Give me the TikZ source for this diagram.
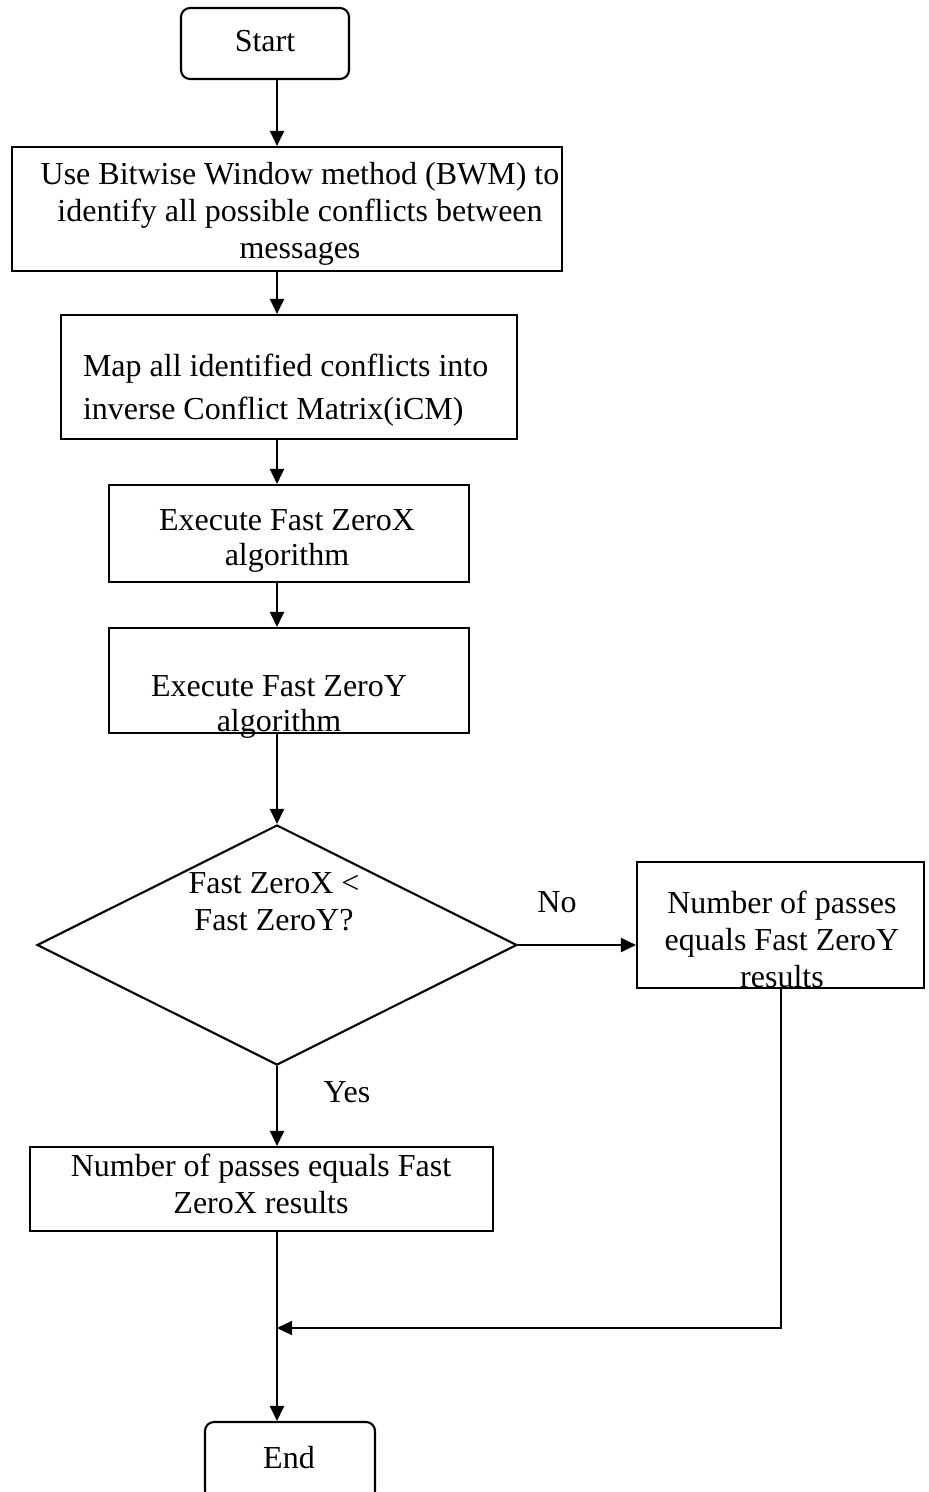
\documentclass[tikz,border=0pt]{standalone}
\usepackage{fontspec}
\setmainfont{Liberation Serif}
\usetikzlibrary{shapes.geometric,arrows.meta}
\begin{document}
\begin{tikzpicture}[x=1pt,y=-1pt,
  line width=2.1pt,
  every node/.style={font=\fontsize{32}{37}\selectfont, inner sep=0pt},
  box/.style={draw, rectangle, minimum width=#1},
  terminal/.style={draw, rectangle, rounded corners=9pt, minimum width=#1},
  decision/.style={draw, diamond, shape aspect=2, minimum width=480pt, minimum height=240pt},
  txt/.style={align=center},
  arr/.style={-{Triangle[length=15pt,width=14pt]}}
]
\useasboundingbox (0,0) rectangle (929,1492);

% main flow axis
\coordinate (axis) at (277,0);

% terminals and process boxes
\node[terminal=168pt, minimum height=71pt] (start) at (265,43.5) {};
\node (starttxt) at (265,41) {Start};

\node[box=550pt, minimum height=124pt] (bwm) at (287,209) {};
\node[txt] (bwmtxt) at (300,214) {Use Bitwise Window method (BWM) to\\identify all possible conflicts between\\messages};

\node[box=456pt, minimum height=124pt] (map) at (289,377) {};
\node[align=left, anchor=west, font=\fontsize{32}{43}\selectfont] (maptxt) at (82,390) {Map all identified conflicts into\\inverse Conflict Matrix(iCM)};

\node[box=360pt, minimum height=97pt] (zx) at (289,533.5) {};
\node[txt, font=\fontsize{32}{35}\selectfont] (zxtxt) at (287,541) {Execute Fast ZeroX\\algorithm};

\node[box=360pt, minimum height=105pt] (zy) at (289,680.5) {};
\node[txt, font=\fontsize{32}{35}\selectfont] (zytxt) at (279,707) {Execute Fast ZeroY\\algorithm};

\node[decision] (cmp) at (277,945) {};
\node[txt] (cmptxt) at (274,902) {Fast ZeroX <\\Fast ZeroY?};

\node[box=287pt, minimum height=126pt] (passy) at (780.5,925) {};
\node[txt] (passytxt) at (782,939) {Number of passes\\equals Fast ZeroY\\results};

\node[box=463pt, minimum height=84pt] (passx) at (261.5,1189) {};
\node[txt] (passxtxt) at (261,1184) {Number of passes equals Fast\\ZeroX results};

\node[terminal=170pt, minimum height=78pt] (end) at (290,1461) {};
\node (endtxt) at (289,1458) {End};

% branch labels
\node (no) at (557,902) {No};
\node (yes) at (347,1092) {Yes};

% connectors
\draw[arr] (start.south -| axis) -- (bwm.north -| axis);
\draw[arr] (bwm.south -| axis) -- (map.north -| axis);
\draw[arr] (map.south -| axis) -- (zx.north -| axis);
\draw[arr] (zx.south -| axis) -- (zy.north -| axis);
\draw[arr] (zy.south -| axis) -- (cmp.north);
\draw[arr] (cmp.east) -- (passy.west |- cmp.east);
\draw[arr] (cmp.south) -- (passx.north -| axis);
\draw[arr] (passx.south -| axis) -- (end.north -| axis);
\coordinate (merge) at (277,1328);
\draw[arr] (passy.south -| 781,0) |- (merge);
\end{tikzpicture}
\end{document}
